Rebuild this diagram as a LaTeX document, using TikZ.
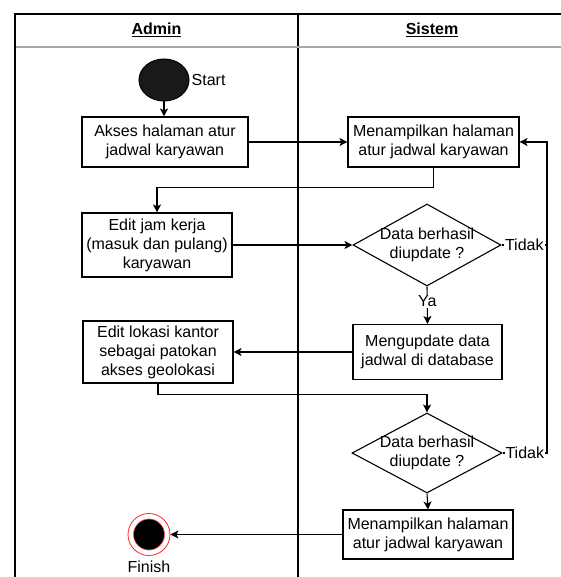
\documentclass[tikz,border=0pt]{standalone}
\usepackage{fontspec}
\setmainfont{Liberation Sans}
\usetikzlibrary{arrows.meta,shapes.geometric,calc}

\begin{document}
\begin{tikzpicture}[x=1pt,y=-1pt,
  every node/.style={font=\fontsize{16}{19}\selectfont},
  act/.style={draw, line width=1.1pt, align=center, inner sep=0pt},
  decision/.style={draw, diamond, line width=1.1pt, inner sep=0pt},
  txt/.style={align=center, inner sep=0pt},
  flow/.style={line width=1.1pt, -{Stealth[length=8pt,width=8pt,inset=2pt]}},
  wire/.style={line width=1.1pt},
  tag/.style={fill=white, inner sep=1pt},
  frame/.style={line width=1.2pt}]

\useasboundingbox (0,0) rectangle (560,577);

% swimlane frame
\draw[frame] (15,577) -- (15,14) -- (566,14);
\draw[frame] (298,14) -- (298,577);
\draw[line width=2pt, black!35] (16,47) -- (566,47);
\node[txt] (hadmin) at (156.5,30) {\underline{\textbf{Admin}}};
\node[txt] (hsistem) at (432,30) {\underline{\textbf{Sistem}}};

% initial and final states
\node[ellipse, fill=black!90, draw=black, line width=1pt,
      minimum width=50pt, minimum height=42pt, inner sep=0pt] (start) at (164,80) {};
\node[anchor=west, inner sep=2pt] (startlbl) at (start.east) {Start};

\node[circle, draw=red!85, line width=0.8pt, minimum size=42pt, inner sep=0pt] (fin) at (149,534.5) {};
\fill[black, draw=red!70, line width=0.6pt] (fin.center) circle (15.5);
\node[txt] (finlbl) at (149,567) {Finish};

% activities
\node[act, minimum width=166pt, minimum height=50pt] (akses) at (165,142)
  {Akses halaman atur\\jadwal karyawan};
\node[act, minimum width=171pt, minimum height=50pt] (tampil1) at (433.5,142)
  {Menampilkan halaman\\atur jadwal karyawan};
\node[act, minimum width=150pt, minimum height=64pt] (jam) at (157,245)
  {Edit jam kerja\\(masuk dan pulang)\\karyawan};
\node[decision, minimum width=148pt, minimum height=82pt] (cek1) at (427,245) {};
\node[txt] (cek1t) at (cek1) {Data berhasil\\diupdate ?};
\node[act, minimum width=149pt, minimum height=55pt] (update) at (427.5,352)
  {Mengupdate data\\jadwal di database};
\node[act, minimum width=150pt, minimum height=62pt] (lokasi) at (158,352)
  {Edit lokasi kantor\\sebagai patokan\\akses geolokasi};
\node[decision, minimum width=150pt, minimum height=80pt] (cek2) at (427,453) {};
\node[txt] (cek2t) at (cek2) {Data berhasil\\diupdate ?};
\node[act, minimum width=170pt, minimum height=49pt] (tampil2) at (428,534.5)
  {Menampilkan halaman\\atur jadwal karyawan};

\coordinate (rail) at (547,0);

% control flow
\draw[flow] (start.south) -- (start.south |- akses.north);
\draw[flow] (akses.east) -- (tampil1.west);
\draw[flow] (tampil1.south) -- ++(0,20) -| (jam.north);
\draw[flow] (jam.east) -- (cek1.west);
\draw[flow] (cek1.south) -- node[tag, pos=0.4] (ya) {Ya} (update.north);
\draw[flow] (update.west) -- (lokasi.east);
\draw[flow] (lokasi.south) -- ++(0,11) -| (cek2.north);
\draw[flow] (cek2.south) -- (tampil2.north);
\draw[flow] (tampil2.west) -- (fin.east);
\draw[wire] (cek1.east) -- node[tag, pos=0.5] (tidak1) {Tidak} (cek1.east -| rail);
\draw[flow] (cek2.east) -- node[tag, pos=0.5] (tidak2) {Tidak} (cek2.east -| rail)
  |- (tampil1.east);

\end{tikzpicture}
\end{document}
